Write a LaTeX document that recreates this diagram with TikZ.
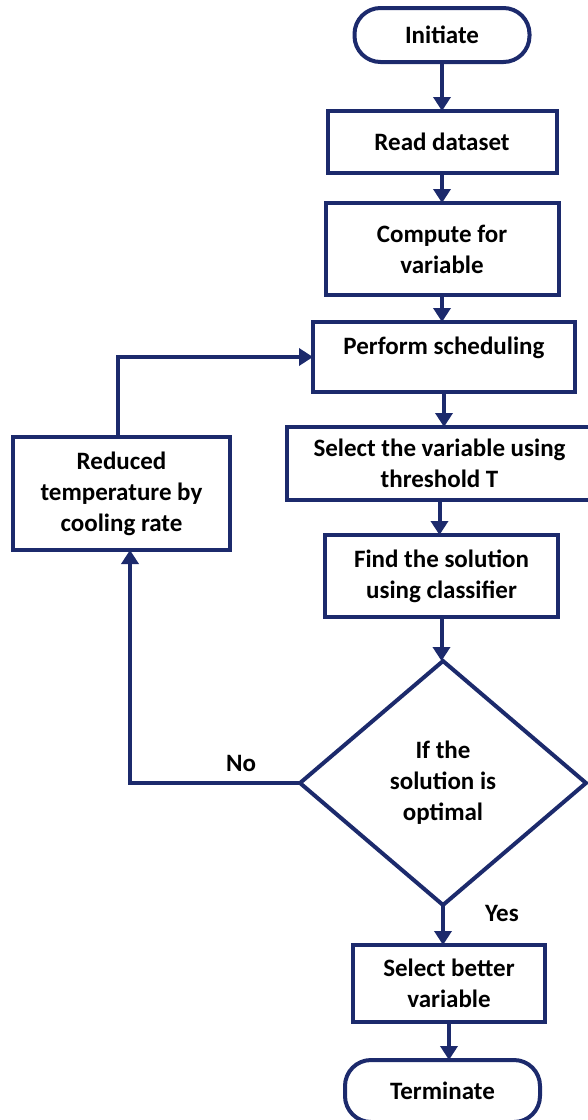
\documentclass[tikz,border=0pt]{standalone}
\usepackage{fontspec}
\setmainfont{Carlito}
\usepackage{tikz}
\usetikzlibrary{positioning}
\usetikzlibrary{shapes.geometric}
\usetikzlibrary{arrows.meta}
\definecolor{navy}{RGB}{28,42,108}

\begin{document}
\begin{tikzpicture}
		[x=1pt, y=-1pt,
		 box/.style={rectangle, draw=navy, line width=4pt, outer sep=0pt, align=center, inner sep=2pt, font=\bfseries\fontsize{25}{31}\selectfont},
		 pill/.style={box, rounded corners=26pt},
		 ask/.style={box, diamond, inner sep=0pt},
		 flow/.style={draw=navy, line width=4pt, -{Triangle[length=14pt, width=17pt]}},
		 lbl/.style={font=\bfseries\fontsize{25}{31}\selectfont}]
		\useasboundingbox (0,0) rectangle (588,1120);
		\node[pill, minimum width=175pt, minimum height=54pt] (start) at (442,35) {Initiate};
		\node[box, minimum width=229pt, minimum height=62pt, below=49pt of start] (read) {Read dataset};
		\node[box, minimum width=233pt, minimum height=92pt, below=30pt of read] (comp) {Compute for\\variable};
		\node[box, minimum width=262pt, minimum height=70pt, below=27pt of comp, xshift=2pt, text height=18pt, text depth=24pt] (sched) {Perform scheduling};
		\node[box, minimum width=305pt, minimum height=73pt, below=35pt of sched, xshift=-4.5pt] (pick) {Select the variable using\\threshold T};
		\node[box, minimum width=233pt, minimum height=82pt, below=35pt of pick, xshift=2pt] (find) {Find the solution\\using classifier};
		\node[ask, minimum width=286pt, minimum height=244pt, below=44pt of find, xshift=1.5pt] (opt) {If the\\solution is\\optimal};
		\node[box, minimum width=192pt, minimum height=77pt, below=40pt of opt, xshift=6pt] (best) {Select better\\variable};
		\node[pill, minimum width=195pt, minimum height=62pt, below=38pt of best, xshift=-6.5pt] (stop) {Terminate};
		\node[box, minimum width=217pt, minimum height=113pt] (cool) at (121.5,493.5) {Reduced\\temperature by\\cooling rate};
		\node[lbl] (no) at (241,763) {No};
		\node[lbl] (yes) at (502,913) {Yes};
		\draw[flow] (start.south) -- (start.south |- read.north);
		\draw[flow] (read.south) -- (read.south |- comp.north);
		\draw[flow] (comp.south) -- (comp.south |- sched.north);
		\draw[flow] (sched.south) -- (sched.south |- pick.north);
		\draw[flow] (pick.south) -- (pick.south |- find.north);
		\draw[flow] (find.south) -- (find.south |- opt.north);
		\draw[flow] (opt.south) -- (opt.south |- best.north);
		\draw[flow] (best.south) -- (best.south |- stop.north);
		\draw[flow] (opt.west) -| ([xshift=8.5pt]cool.south);
		\draw[flow] ([xshift=-3.5pt]cool.north) |- (sched.west);
	\end{tikzpicture}
\end{document}
